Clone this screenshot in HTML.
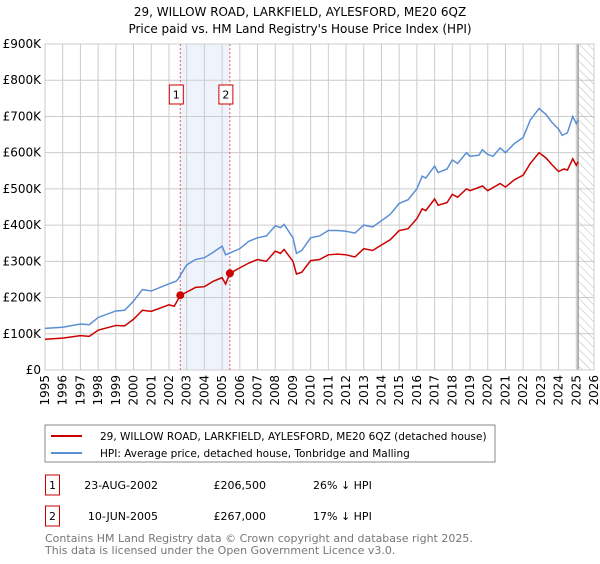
<!DOCTYPE html>
<html><head><meta charset="utf-8"><style>
body{margin:0;background:#fff;font-family:"DejaVu Sans","Liberation Sans",sans-serif;}
svg text{font-family:"DejaVu Sans","Liberation Sans",sans-serif;}
</style></head><body>
<svg id="c" width="600" height="560" xmlns="http://www.w3.org/2000/svg">
<defs><pattern id="hatch" width="6" height="6" patternUnits="userSpaceOnUse" patternTransform="rotate(-45)"><line x1="0" y1="0" x2="0" y2="6" stroke="#bbb" stroke-width="1"/></pattern></defs>
<text x="300" y="16" text-anchor="middle" font-size="12">29, WILLOW ROAD, LARKFIELD, AYLESFORD, ME20 6QZ</text>
<text x="300" y="33" text-anchor="middle" font-size="12">Price paid vs. HM Land Registry's House Price Index (HPI)</text>
<g id="grid"></g><g id="plot"></g>
<rect x="45" y="425" width="450" height="37" fill="#fff" stroke="#888"/>
<line x1="51" y1="436" x2="82" y2="436" stroke="#cc0000" stroke-width="2"/>
<text x="100" y="440" font-size="10.5">29, WILLOW ROAD, LARKFIELD, AYLESFORD, ME20 6QZ (detached house)</text>
<line x1="51" y1="453" x2="82" y2="453" stroke="#5b8fd4" stroke-width="2"/>
<text x="100" y="457" font-size="10.5">HPI: Average price, detached house, Tonbridge and Malling</text>
<g>
<rect x="45.5" y="475" width="14" height="20" fill="#fff" stroke="#cc0000"/><text x="52.5" y="489" text-anchor="middle" font-size="11">1</text>
<text x="158" y="489" text-anchor="end" font-size="11">23-AUG-2002</text>
<text x="266" y="489" text-anchor="end" font-size="11">£206,500</text>
<text x="313" y="489" font-size="11">26% ↓ HPI</text></g>
<g>
<rect x="45.5" y="506" width="14" height="20" fill="#fff" stroke="#cc0000"/><text x="52.5" y="520" text-anchor="middle" font-size="11">2</text>
<text x="158" y="520" text-anchor="end" font-size="11">10-JUN-2005</text>
<text x="266" y="520" text-anchor="end" font-size="11">£267,000</text>
<text x="313" y="520" font-size="11">17% ↓ HPI</text></g>
<text x="45" y="542" font-size="11" fill="#777">Contains HM Land Registry data © Crown copyright and database right 2025.</text>
<text x="45" y="554" font-size="11" fill="#777">This data is licensed under the Open Government Licence v3.0.</text>
</svg>
<script>
const yTicks=[0,100,200,300,400,500,600,700,800,900];
const yLabels=["£0","£100K","£200K","£300K","£400K","£500K","£600K","£700K","£800K","£900K"];
const xYears=[1995,1996,1997,1998,1999,2000,2001,2002,2003,2004,2005,2006,2007,2008,2009,2010,2011,2012,2013,2014,2015,2016,2017,2018,2019,2020,2021,2022,2023,2024,2025,2026];
const hpiT=[1995,1996,1997,1997.5,1998,1999,1999.5,2000,2000.5,2001,2002,2002.4,2002.5,2003,2003.5,2004,2004.5,2005,2005.2,2006,2006.5,2007,2007.5,2008,2008.3,2008.5,2009,2009.2,2009.5,2010,2010.5,2011,2011.5,2012,2012.5,2013,2013.5,2014,2014.5,2015,2015.5,2016,2016.3,2016.5,2017,2017.2,2017.7,2018,2018.3,2018.8,2019,2019.5,2019.7,2020,2020.3,2020.7,2021,2021.5,2022,2022.4,2022.9,2023.3,2023.6,2024,2024.2,2024.5,2024.8,2025,2025.1];
const hpiV=[115,118,127,125,145,163,165,190,222,218,238,245,250,290,305,310,325,342,318,335,355,365,370,398,393,402,365,322,330,365,370,385,385,383,378,400,395,412,430,460,470,500,535,530,563,545,555,580,570,600,590,593,608,595,590,613,600,625,642,690,722,705,685,665,648,655,700,680,690];
const ppT=[1995,1996,1997,1997.5,1998,1999,1999.5,2000,2000.5,2001,2002,2002.3,2002.64,2003,2003.5,2004,2004.5,2005,2005.2,2005.44,2006,2006.5,2007,2007.5,2008,2008.3,2008.5,2009,2009.2,2009.5,2010,2010.5,2011,2011.5,2012,2012.5,2013,2013.5,2014,2014.5,2015,2015.5,2016,2016.3,2016.5,2017,2017.2,2017.7,2018,2018.3,2018.8,2019,2019.7,2020,2020.7,2021,2021.5,2022,2022.4,2022.9,2023.3,2023.6,2024,2024.3,2024.5,2024.8,2025,2025.1];
const ppV=[85,88,95,93,110,123,122,140,165,162,180,176,206.5,215,228,230,245,255,237,267,282,295,305,300,328,322,333,300,265,270,302,305,318,320,318,312,335,330,345,360,385,390,418,445,440,472,455,462,485,477,500,495,508,495,515,505,525,538,570,600,585,568,548,555,552,583,565,575];
const saleT=[2002.64,2005.44];
const saleV=[206.5,267];
const saleLabels=["1","2"];
const dataEnd=2025.1;
const L=45,R=594,T=44,B=370;
const xs=t=>L+(t-1995)/(2026-1995)*(R-L);
const ys=v=>B-v/900*(B-T);
const NS="http://www.w3.org/2000/svg";
function mk(tag,attrs,parent){const e=document.createElementNS(NS,tag);for(const k in attrs)e.setAttribute(k,attrs[k]);parent.appendChild(e);return e;}
const grid=document.getElementById('grid'),plot=document.getElementById('plot');
let sh=mk('rect',{x:xs(saleT[0]),y:T,width:xs(saleT[1])-xs(saleT[0]),height:B-T,fill:'#eef3fc'},grid);


yTicks.forEach((v,i)=>{
 let l=mk('line',{x1:L,x2:R,y1:ys(v),y2:ys(v),stroke:'#ccc'},grid);
 
 
 let t=mk('text',{x:L-4,y:ys(v)+4,'text-anchor':'end','font-size':'12'},grid);
 t.textContent=yLabels[i];
 
 
});
xYears.forEach(y=>{
 let l=mk('line',{x1:xs(y),x2:xs(y),y1:T,y2:B,stroke:'#ccc'},grid);
 
 
 let t=mk('text',{x:0,y:0,'text-anchor':'end','font-size':'12',transform:`translate(${xs(y)+4},${B+5}) rotate(-90)`},grid);
 t.textContent=y;
 
 
});
let hz=mk('rect',{x:xs(dataEnd),y:T,width:R-xs(dataEnd),height:B-T,fill:'url(#hatch)'},grid);


let el=mk('line',{x1:xs(dataEnd),x2:xs(dataEnd),y1:T,y2:B,stroke:'#999','stroke-width':1.5},grid);


let fr=mk('rect',{x:L,y:T,width:R-L,height:B-T,fill:'none',stroke:'#ccc'},grid);


saleT.forEach((t,i)=>{
 let l=mk('line',{x1:xs(t),x2:xs(t),y1:T,y2:B,stroke:'#e06060','stroke-dasharray':'2,2'},plot);
 
 
 let r=mk('rect',{x:xs(t)-11,y:85,width:14,height:19,fill:'#fff',stroke:'#cc0000'},plot);
 
 
 let tx=mk('text',{x:xs(t)-4,y:98.5,'text-anchor':'middle','font-size':'11'},plot);
 tx.textContent=saleLabels[i];
 
 
});
let hp=mk('polyline',{points:hpiT.map((t,i)=>xs(t)+','+ys(hpiV[i])).join(' '),fill:'none',stroke:'#5b8fd4','stroke-width':1.5},plot);


let pp=mk('polyline',{points:ppT.map((t,i)=>xs(t)+','+ys(ppV[i])).join(' '),fill:'none',stroke:'#cc0000','stroke-width':1.5},plot);


saleT.forEach((t,i)=>{
 let c=mk('circle',{cx:xs(t),cy:ys(saleV[i]),r:4,fill:'#cc0000'},plot);
 
 
});
</script>
</body></html>
